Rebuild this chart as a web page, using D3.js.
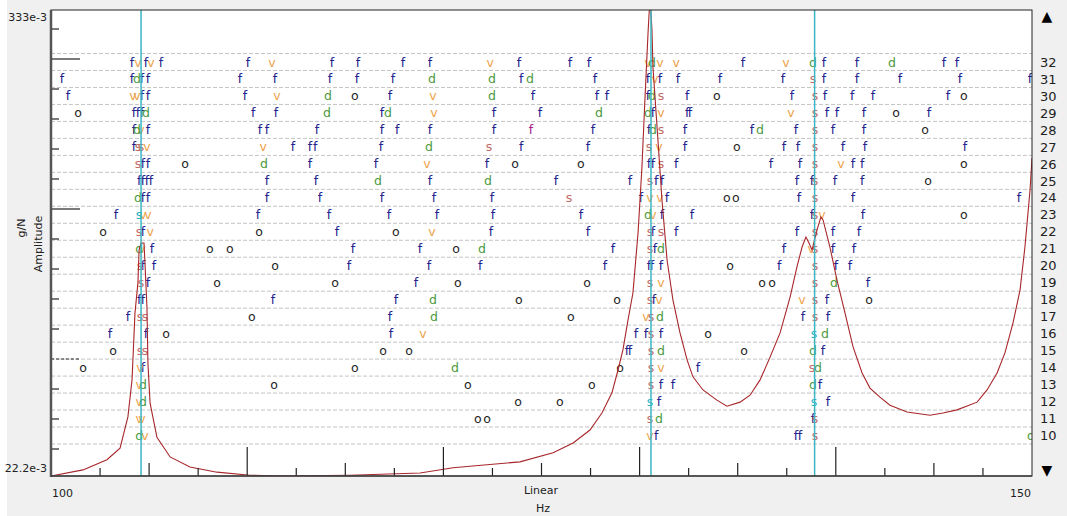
<!DOCTYPE html>
<html>
<head>
<meta charset="utf-8">
<script src="https://cdn.jsdelivr.net/npm/d3@7"></script>
<style>
  body { margin: 0; background: #fff; }
  svg text { font-family: Tahoma, "DejaVu Sans", sans-serif; }
</style>
</head>
<body>
<svg id="chart"></svg>
<script>
// stabilisation poles, one row per model order: [order, freq, freq, ...] (Hz)
const fPoles = [
  [32, 104.13, 104.84, 105.61, 110.04, 114.32, 115.65, 117.94, 119.32, 123.85, 126.45, 127.42, 135.27, 139.40, 141.08, 145.51, 146.18],
  [31, 100.56, 104.13, 104.64, 104.94, 109.63, 111.42, 114.22, 115.60, 117.43, 123.96, 127.73, 130.43, 131.04, 131.96, 134.10, 137.31, 139.40, 141.08, 143.27, 146.33, 149.90],
  [30, 100.87, 104.64, 104.94, 109.89, 117.28, 124.57, 127.83, 128.34, 130.43, 132.42, 137.77, 139.45, 140.83, 141.90, 145.72],
  [29, 104.23, 104.43, 104.64, 110.30, 111.47, 116.87, 122.58, 124.92, 130.68, 132.42, 132.57, 139.55, 140.06, 141.44, 144.75],
  [28, 104.23, 104.94, 110.65, 111.01, 113.56, 116.87, 117.64, 119.32, 122.58, 127.62, 130.48, 132.31, 135.73, 137.97, 139.86, 141.44],
  [27, 104.23, 112.33, 113.20, 113.46, 116.82, 123.96, 127.37, 132.31, 137.36, 138.07, 140.37, 141.49, 146.58],
  [26, 104.69, 104.94, 113.20, 116.56, 122.22, 130.48, 130.68, 131.86, 136.70, 138.17, 140.88, 141.34],
  [25, 104.49, 104.69, 104.89, 105.10, 111.01, 113.51, 119.32, 125.74, 129.51, 130.84, 131.14, 138.02, 138.79, 139.96, 141.34],
  [24, 104.69, 104.94, 111.01, 113.71, 116.87, 119.52, 122.48, 130.07, 131.40, 138.12, 140.88, 149.34],
  [23, 103.31, 110.55, 114.17, 117.23, 119.67, 122.53, 127.01, 131.14, 132.67, 138.79, 141.39],
  [22, 104.69, 114.58, 122.43, 127.37, 130.68, 131.86, 138.02, 139.86, 141.18],
  [21, 105.15, 115.39, 118.81, 128.64, 130.78, 137.36, 139.86, 140.93],
  [20, 104.69, 105.25, 115.19, 119.27, 121.87, 128.24, 130.48, 130.63, 131.09, 137.11, 140.01, 140.72],
  [19, 104.94, 118.60, 141.64],
  [18, 104.49, 104.69, 111.31, 117.58, 130.73, 139.55],
  [17, 103.92, 117.28, 138.33, 139.60],
  [16, 103.01, 104.84, 117.33, 129.82, 130.33, 131.09],
  [15, 129.36, 129.51, 139.35],
  [14, 104.69, 132.98],
  [13, 131.09, 131.70, 139.19],
  [12, 130.99, 139.60],
  [11, 138.84],
  [10, 130.84, 137.97, 138.17]
];
const vPoles = [
  [32, 104.43, 105.10, 111.26, 122.38, 130.43, 131.04, 131.86, 137.46],
  [31, 130.78],
  [30, 104.18, 104.38, 111.52, 119.47],
  [29, 119.52, 131.09, 137.72],
  [28, 104.59],
  [27, 104.89, 110.81, 130.99],
  [26, 119.16, 140.26],
  [24, 130.53, 131.04],
  [23, 104.69, 104.94, 130.68, 139.30],
  [22, 105.05, 119.42],
  [21, 104.64, 138.74],
  [19, 131.09],
  [18, 130.99, 138.28],
  [17, 130.33],
  [16, 118.96],
  [14, 104.54, 131.09],
  [13, 104.49],
  [12, 104.49],
  [11, 104.49, 104.64],
  [10, 104.79, 130.53]
];
const dPoles = [
  [32, 130.63, 138.84, 142.86],
  [31, 104.38, 119.42, 122.48, 124.41],
  [30, 114.12, 122.48, 130.63],
  [29, 104.84, 114.07, 117.18, 127.93, 130.43],
  [28, 104.38, 130.68, 136.14],
  [27, 119.27],
  [26, 110.86],
  [25, 116.67, 122.27],
  [24, 104.43],
  [23, 130.43],
  [21, 104.49, 121.97, 131.09],
  [19, 139.91],
  [18, 119.47],
  [17, 119.52, 131.04],
  [16, 139.45],
  [15, 131.09, 138.84],
  [14, 120.59, 139.09],
  [13, 104.69, 138.84],
  [12, 104.69],
  [11, 130.99],
  [10, 104.49, 149.95]
];
const sPoles = [
  [31, 138.84],
  [30, 131.09, 138.94],
  [29, 138.94],
  [28, 131.09, 138.94],
  [27, 104.43, 104.59, 122.32, 130.48, 138.94],
  [26, 104.43, 131.09, 138.94],
  [25, 130.53, 138.94],
  [24, 126.40, 138.94],
  [23, 138.94],
  [22, 104.49, 130.53, 131.09, 138.94],
  [21, 130.53, 138.94],
  [20, 104.54, 138.94],
  [19, 104.59, 130.53, 138.94],
  [18, 130.53, 138.94],
  [17, 104.54, 104.79, 130.58, 138.94],
  [16, 130.58],
  [15, 104.54, 104.79, 130.58],
  [14, 130.58, 138.79],
  [13, 130.58],
  [11, 130.53, 138.94],
  [10, 138.94]
];
const sSelected = [
  [23, 104.49],
  [16, 138.89],
  [12, 130.53, 138.89]
];
const oPoles = [
  [30, 115.49, 133.94, 146.53],
  [29, 101.38, 143.07],
  [28, 144.55],
  [27, 134.96],
  [26, 106.83, 123.65, 127.01, 146.53],
  [25, 144.70],
  [24, 134.45, 134.91],
  [23, 146.53],
  [22, 102.65, 110.60, 117.58],
  [21, 108.10, 109.12, 120.64],
  [20, 111.42, 134.61],
  [19, 108.46, 114.48, 120.74, 127.32, 136.24, 136.75],
  [18, 123.85, 128.85, 141.69],
  [17, 110.24, 126.50],
  [16, 105.86, 133.49],
  [15, 103.16, 116.92, 118.25, 135.32],
  [14, 101.63, 115.49, 129.00],
  [13, 111.37, 121.25, 127.57],
  [12, 123.80, 125.94],
  [11, 121.76, 122.22]
];
const fHighlight = [
  [28, 124.46]
];

// selected modes (cyan cursors), Hz
const modeFreqs = [104.59, 130.58, 138.92];

// FRF amplitude sum (g/N)
const frfFreq = [100.00, 101.63, 102.85, 103.52, 103.92, 104.13, 104.28, 104.43, 104.49, 104.59,
  104.74, 104.79, 104.89, 104.94, 105.05, 105.40, 106.07, 107.08, 108.46, 110.14,
  111.70, 115.24, 118.81, 120.49, 122.22, 123.90, 125.59, 126.61, 127.47, 128.08,
  128.59, 128.90, 129.15, 129.41, 129.66, 129.92, 130.12, 130.27, 130.43, 130.53,
  130.63, 130.68, 130.89, 131.14, 131.40, 131.70, 132.06, 132.42, 132.72, 133.23,
  133.94, 134.45, 135.12, 135.63, 136.14, 136.65, 137.16, 137.67, 138.02, 138.28,
  138.48, 138.63, 138.79, 139.04, 139.24, 139.35, 139.70, 140.06, 140.47, 140.88,
  141.34, 141.74, 142.25, 142.76, 143.63, 144.80, 145.46, 146.18, 147.20, 147.71,
  148.22, 148.62, 149.03, 149.39, 149.64, 149.90, 150.00];
const frfAmp = [0.0222, 0.0230, 0.0244, 0.0261, 0.0313, 0.0388, 0.0572, 0.0682, 0.0826, 0.0860,
  0.0860, 0.0765, 0.0593, 0.0428, 0.0339, 0.0278, 0.0248, 0.0234, 0.0227, 0.0223,
  0.0222, 0.0223, 0.0226, 0.0233, 0.0237, 0.0241, 0.0254, 0.0269, 0.0290, 0.0320,
  0.0360, 0.0411, 0.0462, 0.0550, 0.0643, 0.0911, 0.1337, 0.1974, 0.2912, 0.3600,
  0.2965, 0.2391, 0.1687, 0.1104, 0.0779, 0.0617, 0.0510, 0.0436, 0.0395, 0.0366,
  0.0345, 0.0333, 0.0341, 0.0355, 0.0388, 0.0443, 0.0510, 0.0628, 0.0748, 0.0840,
  0.0890, 0.0860, 0.0826, 0.0927, 0.1000, 0.0983, 0.0840, 0.0693, 0.0572, 0.0470,
  0.0404, 0.0370, 0.0351, 0.0335, 0.0322, 0.0316, 0.0320, 0.0326, 0.0341, 0.0366,
  0.0404, 0.0454, 0.0540, 0.0654, 0.0840, 0.1170, 0.1409];

const orders = d3.range(10, 33);
const xTicks = d3.range(102.5, 150, 2.5);

const W = 1067, H = 516;
const pL = 51, pR = 1032, pT = 10, pB = 476;

const svg = d3.select("#chart").attr("width", W).attr("height", H);

svg.append("rect").attr("x", 7).attr("y", 0).attr("width", W - 7).attr("height", H).attr("fill", "#f0f0f0");
svg.append("rect").attr("x", pL).attr("y", pT).attr("width", pR - pL).attr("height", pB - pT).attr("fill", "#fff");

const x = d3.scaleLinear().domain([100, 150]).range([pL, pR]);
const yAmp = d3.scaleLog().domain([0.0222, 0.333]).range([pB, pT]);
const yOrd = d3.scaleLinear().domain([10, 32]).range([435.5, 62]);
// evenly spaced left divisions (30 px)
const yDiv = d3.scaleLinear().domain([0, (pB - pT) / 30]).range([pB, pT]);

svg.append("clipPath").attr("id", "plotClip")
  .append("rect").attr("x", pL).attr("y", pT).attr("width", pR - pL).attr("height", pB - pT);

// dashed order grid
svg.append("g").selectAll("line")
  .data(d3.range(9.5, 33, 1))
  .enter().append("line")
  .attr("x1", pL).attr("x2", pR)
  .attr("y1", d => yOrd(d)).attr("y2", d => yOrd(d))
  .attr("stroke", "#c4c4c4").attr("stroke-dasharray", "4,2");

// poles
const typeStyle = [
  [fPoles, "f", "#23238c"],
  [vPoles, "v", "#eda24a"],
  [dPoles, "d", "#4b9a3c"],
  [sPoles, "s", "#c26a66"],
  [oPoles, "o", "#1e1e1e"],
  [sSelected, "s", "#27b2c4"],
  [fHighlight, "f", "#a8208c"]
];
const poles = [];
typeStyle.forEach(([rows, ch, col]) => {
  rows.forEach(r => r.slice(1).forEach(f => poles.push({ order: r[0], f, ch, col })));
});

svg.append("g").attr("clip-path", "url(#plotClip)")
  .selectAll("text")
  .data(poles)
  .enter().append("text")
  .attr("x", d => x(d.f))
  .attr("y", d => yOrd(d.order) + 4.5)
  .attr("text-anchor", "middle")
  .attr("font-size", 12.5)
  .attr("fill", d => d.col)
  .text(d => d.ch);

// FRF curve
const frf = frfFreq.map((f, i) => ({ f, a: frfAmp[i] }));
svg.append("path")
  .datum(frf)
  .attr("clip-path", "url(#plotClip)")
  .attr("fill", "none")
  .attr("stroke", "#a8262a")
  .attr("stroke-width", 1.1)
  .attr("d", d3.line().x(d => x(d.f)).y(d => yAmp(d.a)));

// mode cursors
svg.append("g").selectAll("line")
  .data(modeFreqs)
  .enter().append("line")
  .attr("x1", d => x(d)).attr("x2", d => x(d))
  .attr("y1", pT).attr("y2", pB)
  .attr("stroke", "#3cb6c2").attr("stroke-width", 1.5);

// bottom frequency ticks
svg.append("g").selectAll("line")
  .data(xTicks)
  .enter().append("line")
  .attr("x1", d => x(d)).attr("x2", d => x(d))
  .attr("y1", pB)
  .attr("y2", d => pB - (d % 10 === 0 ? 29 : d % 5 === 0 ? 13 : 8))
  .attr("stroke", "#222").attr("stroke-width", 1.2);

// left divisions
const divs = d3.range(15).map(i => 0.9 + i);
svg.append("g").selectAll("line")
  .data(divs)
  .enter().append("line")
  .attr("x1", pL).attr("y1", d => yDiv(d)).attr("y2", d => yDiv(d))
  .attr("x2", (d, i) => (i === 3 || i === 8 || i === 13) ? 80 : 59)
  .attr("stroke", "#222").attr("stroke-width", 1.2)
  .attr("stroke-dasharray", (d, i) => i === 3 ? "3,2" : null);

// frame
svg.append("rect").attr("x", pL).attr("y", pT).attr("width", pR - pL).attr("height", pB - pT)
  .attr("fill", "none").attr("stroke", "#222").attr("stroke-width", 1);
svg.append("line").attr("x1", pL).attr("x2", pL).attr("y1", pT).attr("y2", pB + 1)
  .attr("stroke", "#555").attr("stroke-width", 2.5);
svg.append("line").attr("x1", pL).attr("x2", pR).attr("y1", pB).attr("y2", pB)
  .attr("stroke", "#444").attr("stroke-width", 1.5);

// right order labels
svg.append("g").selectAll("text")
  .data(orders)
  .enter().append("text")
  .attr("x", 1040).attr("y", d => yOrd(d)).attr("dy", "0.36em")
  .attr("font-size", 13).attr("fill", "#222")
  .text(d => d);

svg.append("text").attr("x", 1047).attr("y", 16).attr("dy", "0.35em").attr("text-anchor", "middle")
  .attr("font-size", 14).attr("fill", "#000").text("▲");
svg.append("text").attr("x", 1047).attr("y", 470).attr("dy", "0.35em").attr("text-anchor", "middle")
  .attr("font-size", 14).attr("fill", "#000").text("▼");

// amplitude axis labels
svg.append("text").attr("x", 47).attr("y", 17).attr("dy", "0.35em").attr("text-anchor", "end")
  .attr("font-size", 11).attr("fill", "#222").text(d3.format(".0f")(yAmp.domain()[1] * 1000) + "e-3");
svg.append("text").attr("x", 47).attr("y", 468).attr("dy", "0.35em").attr("text-anchor", "end")
  .attr("font-size", 11).attr("fill", "#222").text(d3.format(".1f")(yAmp.domain()[0] * 1000) + "e-3");
svg.append("text").attr("transform", "translate(25,228) rotate(-90)").attr("text-anchor", "middle")
  .attr("font-size", 11).attr("fill", "#222").text("g/N");
svg.append("text").attr("transform", "translate(42,244) rotate(-90)").attr("text-anchor", "middle")
  .attr("font-size", 11).attr("fill", "#222").text("Amplitude");

// frequency axis labels
svg.append("text").attr("x", pL + 1).attr("y", 493).attr("dy", "0.35em")
  .attr("font-size", 11).attr("fill", "#222").text(x.domain()[0]);
svg.append("text").attr("x", pR - 1).attr("y", 493).attr("dy", "0.35em").attr("text-anchor", "end")
  .attr("font-size", 11).attr("fill", "#222").text(x.domain()[1]);
svg.append("text").attr("x", 541).attr("y", 490).attr("dy", "0.35em").attr("text-anchor", "middle")
  .attr("font-size", 11).attr("fill", "#222").text("Linear");
svg.append("text").attr("x", 543).attr("y", 508).attr("dy", "0.35em").attr("text-anchor", "middle")
  .attr("font-size", 11).attr("fill", "#222").text("Hz");
</script>
</body>
</html>
